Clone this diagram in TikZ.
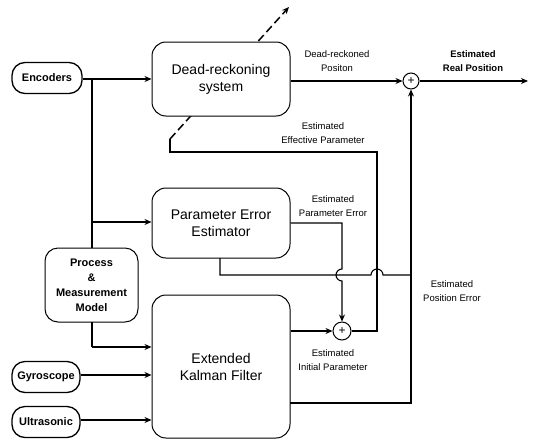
\documentclass[tikz,border=0pt]{standalone}
\usepackage{fontspec}
\setmainfont{Liberation Sans}
\usetikzlibrary{arrows.meta,backgrounds}

\begin{document}
\begin{tikzpicture}[x=1pt,y=-1pt,
  line width=1.1pt,
  >={Stealth[length=7pt,width=6pt]},
  block/.style={draw, rounded corners=14pt, fill=white, line width=1pt,
    align=center, inner sep=0pt, font=\fontsize{14}{17}\selectfont},
  pill/.style={draw, rounded corners=13pt, line width=1.3pt, fill=white,
    inner sep=0pt, font=\bfseries\fontsize{11}{13}\selectfont},
  sum/.style={draw, circle, minimum size=17pt, inner sep=0pt,
    line width=1pt, fill=white, font=\fontsize{12}{12}\selectfont},
  lbl/.style={align=center, inner sep=0pt, font=\fontsize{9.5}{13.5}\selectfont},
]
\useasboundingbox (0,0) rectangle (537,442);

% sensors
\node[pill, minimum width=70pt, minimum height=31pt] (enc) at (47,78) {Encoders};
\node[pill, minimum width=68pt, minimum height=31pt] (gyro) at (46,377) {Gyroscope};
\node[pill, minimum width=68pt, minimum height=31pt] (ultra) at (46,422) {Ultrasonic};

% processing blocks
\node[block, minimum width=138pt, minimum height=74pt] (dr) at (221,79) {Dead-reckoning\\system};
\node[block, minimum width=138pt, minimum height=70pt] (pee) at (221,223) {Parameter Error\\Estimator};
\node[block, minimum width=93pt, minimum height=74pt, rounded corners=13pt,
      font=\bfseries\fontsize{11}{15}\selectfont] (model) at (91.5,285) {Process\\\&\\Measurement\\Model};
\node[block, minimum width=138pt, minimum height=143pt] (ekf) at (221,366.5) {Extended\\Kalman Filter};

% summing junctions
\node[sum, minimum size=16pt] (sum1) at (411,81) {+};
\node[sum, minimum size=18pt] (sum2) at (342,331) {+};

% helper points
\coordinate (encsplit) at (92,79);
\coordinate (modeltop) at (92,248);
\coordinate (peein) at (92,222);
\coordinate (modelout) at (92,322);
\coordinate (modelturn) at (92,347);
\coordinate (effright) at (377,152);
\coordinate (effcorner) at (170,152);
\coordinate (effbend) at (170,139);
\coordinate (adjtip) at (289,7);
\coordinate (peeout) at (220,258);
\coordinate (ekfpos) at (290,403);
\coordinate (out) at (528,81);

% adjustable-parameter arrow through the dead-reckoning block
\begin{scope}[on background layer]
  \draw[->, line width=1.5pt, dash pattern=on 8pt off 4pt] (effbend) -- (adjtip);
\end{scope}

% sensor inputs
\draw[->] (enc.east |- encsplit) -- (dr.west |- encsplit);
\draw (encsplit) -- (modeltop);
\draw[->] (peein) -- (pee.west |- peein);
\draw (modelout) -- (modelturn);
\draw[->] (modelturn) -- (ekf.west |- modelturn);
\draw[->] (gyro.east |- 0,375) -- (ekf.west |- 0,375);
\draw[->] (ultra.east |- 0,420) -- (ekf.west |- 0,420);

% dead-reckoned position and corrected output
\draw[->] (dr.east |- sum1) -- (sum1.west);
\draw[->] (sum1.east) -- (out);

% estimated parameter error, with a hop over the position error line
\draw[->] (pee.east) -- (342,223) -- (342,269)
  arc[start angle=90, end angle=270, radius=6pt] -- (sum2.north);

% initial parameter from the filter
\draw[->] (ekf.east |- sum2) -- (sum2.west);

% effective parameter fed back to the dead-reckoning system
\draw (sum2.east) -| (effright) -- (effcorner) -- (effbend);

% estimated position error
\draw (peeout) -- (220,275) -- (371,275)
  arc[start angle=180, end angle=0, radius=6pt] -- (411,275);
\draw[->] (ekfpos) -| (sum1.south);

% signal labels
\node[lbl] (lbldr) at (337,61) {Dead-reckoned\\Positon};
\node[lbl, font=\bfseries\fontsize{9.5}{14}\selectfont] (lblreal) at (473,61) {Estimated\\Real Position};
\node[lbl] (lbleff) at (323,133) {Estimated\\Effective Parameter};
\node[lbl] (lblpe) at (333,206) {Estimated\\Parameter Error};
\node[lbl] (lblpos) at (452,291) {Estimated\\Position Error};
\node[lbl] (lblini) at (333,360) {Estimated\\Initial Parameter};
\end{tikzpicture}
\end{document}
